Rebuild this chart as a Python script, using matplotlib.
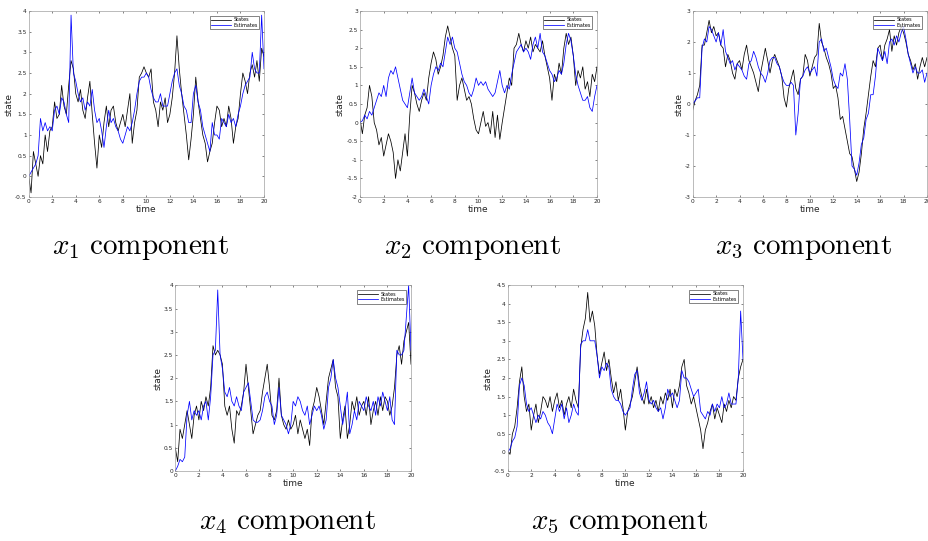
import numpy as np
import matplotlib
matplotlib.use("Agg")
import matplotlib.pyplot as plt

plt.rcParams['mathtext.fontset'] = 'cm'

t = [round(0.2 * i, 1) for i in range(101)]

x1_state = [0.0, -0.4, 0.6, 0.3, 0.0, 0.5, 0.3, 1.0, 0.6, 1.1, 1.2, 1.8, 1.4, 1.5, 2.2, 1.7, 1.5, 2.2, 2.8, 2.6,
            2.0, 1.8, 2.1, 1.6, 1.4, 1.9, 2.3, 1.5, 0.8, 0.2, 1.0, 0.7, 1.3, 1.7, 1.2, 1.6, 1.7, 1.3, 1.1, 1.3,
            1.5, 1.2, 1.6, 2.0, 0.8, 1.3, 1.6, 2.4, 2.5, 2.65, 2.5, 2.4, 2.6, 1.8, 1.6, 1.2, 1.8, 1.6, 1.9, 1.3,
            1.5, 1.9, 2.5, 3.4, 2.6, 2.0, 1.5, 1.0, 0.4, 0.9, 1.5, 2.4, 1.8, 1.4, 1.0, 0.8, 0.35, 0.6, 0.8, 1.3,
            1.7, 1.6, 1.2, 1.4, 1.2, 1.7, 1.4, 0.8, 1.2, 1.4, 2.0, 2.5, 2.3, 2.0, 2.5, 2.7, 2.4, 2.8, 2.3, 3.1, 2.9]
x1_est = [0.0, 0.1, 0.2, 0.3, 0.5, 1.4, 1.1, 1.3, 1.1, 1.2, 1.1, 1.6, 1.7, 1.5, 1.9, 1.8, 1.5, 1.3, 3.9, 2.5,
          2.3, 2.0, 1.8, 1.9, 1.6, 1.8, 1.7, 2.1, 1.6, 1.3, 1.4, 1.1, 0.7, 1.2, 1.6, 1.3, 1.4, 1.2, 1.1, 0.9,
          0.8, 1.0, 1.2, 1.1, 1.3, 1.6, 2.0, 2.3, 2.4, 2.4, 2.5, 2.4, 2.1, 1.9, 1.8, 1.8, 2.0, 1.7, 1.7, 1.7,
          2.0, 2.3, 2.5, 2.6, 2.2, 2.0, 1.7, 1.6, 1.3, 1.3, 2.0, 2.2, 1.8, 1.6, 1.2, 1.0, 0.8, 0.6, 1.3, 1.0,
          1.0, 0.9, 1.4, 1.3, 1.2, 1.5, 1.3, 1.4, 1.2, 1.5, 1.7, 2.0, 2.2, 2.3, 2.4, 3.0, 2.6, 2.5, 2.5, 3.9, 2.6]

x2_state = [0.1, -0.3, 0.2, 0.4, 1.0, 0.7, 0.0, -0.2, -0.6, -0.4, -0.9, -0.6, -0.3, -0.5, -0.8, -1.5, -1.0, -1.3, -0.8, -0.3,
            -0.9, 0.2, 1.0, 0.8, 0.5, 0.3, 0.6, 0.8, 0.6, 1.2, 1.6, 1.9, 1.7, 1.3, 1.5, 1.8, 2.3, 2.6, 2.3, 2.0,
            1.8, 0.6, 1.0, 1.2, 0.9, 0.6, 0.7, 0.5, 0.1, -0.2, -0.3, 0.0, 0.3, -0.1, 0.0, -0.3, 0.3, -0.4, 0.2, -0.45,
            0.0, 0.4, 0.8, 1.2, 1.0, 2.0, 2.1, 2.4, 2.1, 1.9, 2.2, 2.0, 2.3, 1.9, 2.1, 2.0, 1.9, 2.2, 1.8, 1.5,
            1.2, 0.6, 1.3, 1.1, 1.6, 1.3, 2.0, 2.4, 2.1, 2.3, 1.8, 1.0, 1.4, 1.2, 1.5, 0.9, 1.1, 0.7, 1.3, 1.1, 1.5]
x2_est = [0.0, 0.05, 0.2, 0.1, 0.3, 0.2, 0.4, 0.6, 0.8, 0.7, 1.0, 0.7, 1.2, 1.4, 1.3, 1.5, 1.2, 0.9, 0.6, 0.5,
          0.4, 0.8, 1.2, 0.8, 0.7, 0.6, 0.7, 0.9, 0.7, 0.5, 1.0, 1.3, 1.5, 1.4, 1.6, 1.5, 1.9, 2.3, 2.1, 2.3,
          2.0, 1.9, 1.6, 1.3, 1.1, 1.0, 0.8, 0.7, 0.9, 1.2, 1.0, 1.1, 1.0, 1.1, 0.9, 0.8, 0.7, 0.8, 1.1, 1.4,
          1.0, 0.8, 1.0, 0.9, 1.3, 1.6, 1.9, 2.0, 2.1, 1.9, 2.0, 1.9, 1.7, 2.1, 2.3, 2.0, 2.4, 1.9, 1.8, 1.6,
          1.4, 1.3, 1.1, 1.2, 1.4, 1.3, 1.6, 2.1, 2.4, 2.2, 1.8, 1.3, 1.0, 0.8, 0.6, 0.6, 0.7, 0.4, 0.3, 0.7, 1.0]

x3_state = [-0.2, 0.1, 0.3, 0.6, 1.9, 1.9, 2.3, 2.7, 2.3, 2.5, 2.2, 2.3, 1.9, 1.8, 1.2, 1.6, 1.4, 1.0, 0.8, 1.3,
            1.4, 1.1, 1.6, 1.9, 1.4, 1.2, 1.0, 0.7, 0.4, 1.0, 1.4, 1.8, 1.4, 1.0, 1.4, 1.6, 1.4, 1.2, 0.9, 0.2,
            -0.1, 0.5, 0.8, 1.1, 0.5, 0.3, 0.8, 0.9, 1.6, 1.4, 0.9, 1.2, 1.5, 1.6, 2.6, 2.0, 1.8, 1.5, 1.3, 1.0,
            0.5, 0.6, 0.2, -0.5, -0.4, -0.8, -1.2, -1.6, -1.7, -2.1, -2.5, -2.2, -1.6, -0.8, -0.3, 0.3, 0.9, 1.4, 1.2, 1.8,
            1.9, 1.4, 1.9, 2.1, 2.4, 1.7, 2.2, 1.9, 2.3, 2.5, 2.3, 2.0, 1.6, 1.4, 1.1, 1.3, 0.8, 1.2, 1.5, 1.2, 1.5]
x3_est = [0.0, 0.1, 0.2, 0.2, 1.8, 2.1, 2.0, 2.5, 2.4, 2.2, 2.0, 2.3, 1.9, 2.4, 1.7, 1.5, 1.3, 1.4, 1.1, 1.3,
          1.2, 1.1, 0.9, 0.8, 1.3, 1.4, 1.7, 1.5, 1.2, 1.0, 0.9, 0.7, 1.0, 1.4, 1.5, 1.5, 1.3, 1.2, 0.9, 0.7,
          0.6, 0.6, 0.7, 0.6, -1.0, -0.3, 0.8, 0.9, 1.1, 1.2, 1.0, 1.1, 1.2, 0.9, 2.0, 2.1, 1.7, 1.8, 1.5, 1.2,
          0.8, 0.6, 0.5, 1.0, 0.9, 1.3, 0.8, -0.5, -2.0, -2.1, -2.3, -1.9, -1.3, -1.1, -0.5, -0.3, 0.3, 0.3, 0.9, 1.8,
          1.6, 1.4, 1.7, 1.3, 2.0, 2.1, 1.9, 2.2, 2.0, 2.3, 2.5, 2.1, 1.6, 1.3, 1.0, 1.2, 1.0, 1.0, 1.1, 0.7, 1.0]

x4_state = [0.5, 0.2, 0.9, 0.7, 1.0, 1.3, 1.0, 0.7, 1.2, 1.4, 1.1, 1.5, 1.3, 1.6, 1.4, 1.8, 2.7, 2.5, 2.6, 2.5,
            2.3, 1.4, 1.2, 1.4, 0.9, 0.6, 1.3, 1.2, 1.4, 1.7, 2.3, 1.8, 1.3, 0.8, 1.0, 1.2, 1.3, 1.7, 2.0, 2.3,
            1.8, 1.2, 1.1, 1.3, 2.0, 1.2, 1.0, 0.9, 1.1, 0.9, 1.0, 1.2, 0.8, 1.1, 0.9, 0.7, 0.9, 0.55, 1.3, 1.5,
            1.8, 1.6, 1.3, 1.0, 1.5, 2.0, 2.2, 2.4, 1.8, 1.6, 0.7, 1.1, 1.4, 0.7, 1.0, 1.5, 1.3, 1.6, 1.2, 1.4,
            1.5, 1.2, 1.6, 1.0, 1.3, 1.5, 1.2, 1.6, 1.3, 1.6, 1.5, 1.2, 1.4, 1.8, 2.5, 2.7, 2.3, 2.8, 3.0, 3.2, 2.3]
x4_est = [0.0, 0.1, 0.25, 0.2, 0.3, 1.2, 1.5, 1.1, 1.3, 1.2, 1.3, 1.1, 1.4, 1.5, 1.1, 1.6, 2.5, 2.6, 3.9, 2.5,
          2.2, 1.7, 1.6, 1.8, 1.5, 1.4, 1.6, 1.4, 1.3, 1.7, 1.8, 1.9, 1.5, 1.1, 1.05, 1.05, 1.1, 1.3, 1.6, 1.7,
          1.5, 1.4, 1.0, 1.2, 1.8, 1.2, 1.1, 1.0, 0.8, 1.0, 1.5, 1.4, 1.6, 1.5, 1.3, 1.2, 1.4, 1.0, 1.2, 1.4,
          1.3, 1.4, 1.2, 0.9, 1.1, 1.8, 2.0, 2.4, 2.0, 1.8, 1.4, 1.0, 1.3, 1.7, 0.8, 1.0, 1.3, 1.1, 1.5, 1.4,
          1.3, 1.6, 1.4, 1.3, 1.5, 1.2, 1.6, 1.4, 1.7, 1.5, 1.3, 1.6, 1.1, 1.0, 2.6, 2.5, 2.5, 2.6, 3.3, 4.0, 2.6]

x5_state = [0.0, -0.05, 0.5, 0.7, 1.2, 1.9, 2.3, 1.5, 1.1, 1.3, 0.6, 1.0, 1.3, 0.8, 1.1, 1.5, 1.4, 1.2, 1.5, 1.1,
            1.4, 1.6, 1.2, 1.4, 1.0, 1.3, 1.5, 1.2, 1.7, 1.4, 1.2, 2.8, 3.3, 3.6, 4.3, 3.5, 3.8, 3.4, 2.6, 2.1,
            2.4, 2.7, 2.2, 2.5, 2.0, 1.6, 1.9, 1.4, 1.7, 1.2, 0.6, 1.1, 1.3, 1.5, 1.9, 2.3, 1.8, 1.5, 1.3, 1.7,
            1.3, 1.5, 1.2, 1.4, 1.1, 1.5, 1.3, 1.6, 1.4, 1.7, 1.2, 1.7, 1.5, 1.8, 2.3, 2.5, 1.8, 1.6, 1.3, 1.5,
            1.2, 0.9, 0.6, 0.1, 0.6, 0.8, 1.1, 1.3, 0.9, 1.2, 1.0, 0.8, 1.3, 1.1, 1.4, 1.2, 1.5, 1.4, 2.0, 2.3, 2.5]
x5_est = [0.0, 0.1, 0.3, 0.4, 0.7, 1.8, 2.0, 1.8, 1.3, 1.1, 1.2, 1.0, 0.8, 1.0, 0.9, 1.1, 1.0, 0.8, 0.7, 0.5,
          0.9, 1.3, 1.1, 1.3, 0.9, 1.2, 0.8, 1.0, 1.3, 1.1, 1.0, 2.9, 3.0, 3.0, 3.3, 3.0, 3.0, 3.0, 2.6, 2.0,
          2.3, 2.2, 2.4, 2.3, 1.7, 1.5, 1.4, 1.4, 1.3, 1.1, 1.0, 1.1, 1.2, 1.7, 2.1, 2.2, 1.6, 1.4, 1.6, 1.9,
          1.4, 1.3, 1.4, 1.2, 1.1, 1.2, 0.9, 1.2, 1.7, 1.5, 1.6, 1.4, 1.2, 1.4, 2.2, 2.0, 2.0, 1.9, 1.7, 1.5,
          1.6, 1.7, 1.1, 1.0, 0.9, 1.1, 1.0, 1.3, 1.1, 1.3, 1.2, 1.5, 1.2, 1.3, 1.6, 1.3, 1.3, 1.3, 2.0, 3.8, 2.5]

series = [(x1_state, x1_est), (x2_state, x2_est), (x3_state, x3_est), (x4_state, x4_est), (x5_state, x5_est)]
ylims = [(-0.5, 4), (-2, 3), (-3, 3), (0, 4), (-0.5, 4.5)]
yticks = [np.arange(-0.5, 4.01, 0.5), np.arange(-2, 3.01, 0.5), np.arange(-3, 3.01, 1),
          np.arange(0, 4.01, 0.5), np.arange(-0.5, 4.51, 0.5)]
captions = [r'$x_1\ \mathrm{component}$', r'$x_2\ \mathrm{component}$', r'$x_3\ \mathrm{component}$',
            r'$x_4\ \mathrm{component}$', r'$x_5\ \mathrm{component}$']

W, H = 929, 541
# axes boxes in pixels: left, right, top, bottom
boxes = [(28.7, 264, 11, 197), (360, 597, 11, 197), (692.7, 927, 11, 197),
         (175.3, 411, 285.3, 471), (507.7, 743, 285, 471)]
cap_pos = [(140, 248), (472, 248), (803, 248), (287, 523), (619, 523)]

fig = plt.figure(figsize=(W / 100, H / 100), dpi=100)
axcol = '#262626'

def fmt(v):
    return '%g' % v

for i, (box, (st, es)) in enumerate(zip(boxes, series)):
    l, r, tp, bt = box
    ax = fig.add_axes([l / W, (H - bt) / H, (r - l) / W, (bt - tp) / H])
    ax.plot(t, st, color='black', lw=0.55, label='States')
    ax.plot(t, es, color=(0, 0, 1), lw=0.55, label='Estimates')
    ax.set_xlim(0, 20)
    ax.set_ylim(*ylims[i])
    ax.set_xticks(np.arange(0, 21, 2))
    ax.set_yticks(yticks[i])
    ax.set_yticklabels([fmt(v) for v in yticks[i]])
    ax.tick_params(direction='in', length=1.5, width=0.4, labelsize=4.2, colors=axcol, pad=1.5,
                   top=True, right=True)
    for sp in ax.spines.values():
        sp.set_linewidth(0.5)
        sp.set_color('#a0a0a0')
    ax.set_xlabel('time', fontsize=6.5, color=axcol, labelpad=1)
    ax.set_ylabel('state', fontsize=6.5, color=axcol, labelpad=1)
    leg = ax.legend(loc='upper right', fontsize=3.5, frameon=True, fancybox=False,
                    handlelength=4.0, borderpad=0.3, labelspacing=0.1, borderaxespad=1.0,
                    handletextpad=0.5)
    leg.get_frame().set_edgecolor(axcol)
    leg.get_frame().set_linewidth(0.5)
    cx, cy = cap_pos[i]
    fig.text(cx / W, 1 - cy / H, captions[i], fontsize=21, ha='center', va='center')

fig.savefig('out.png', dpi=100)
